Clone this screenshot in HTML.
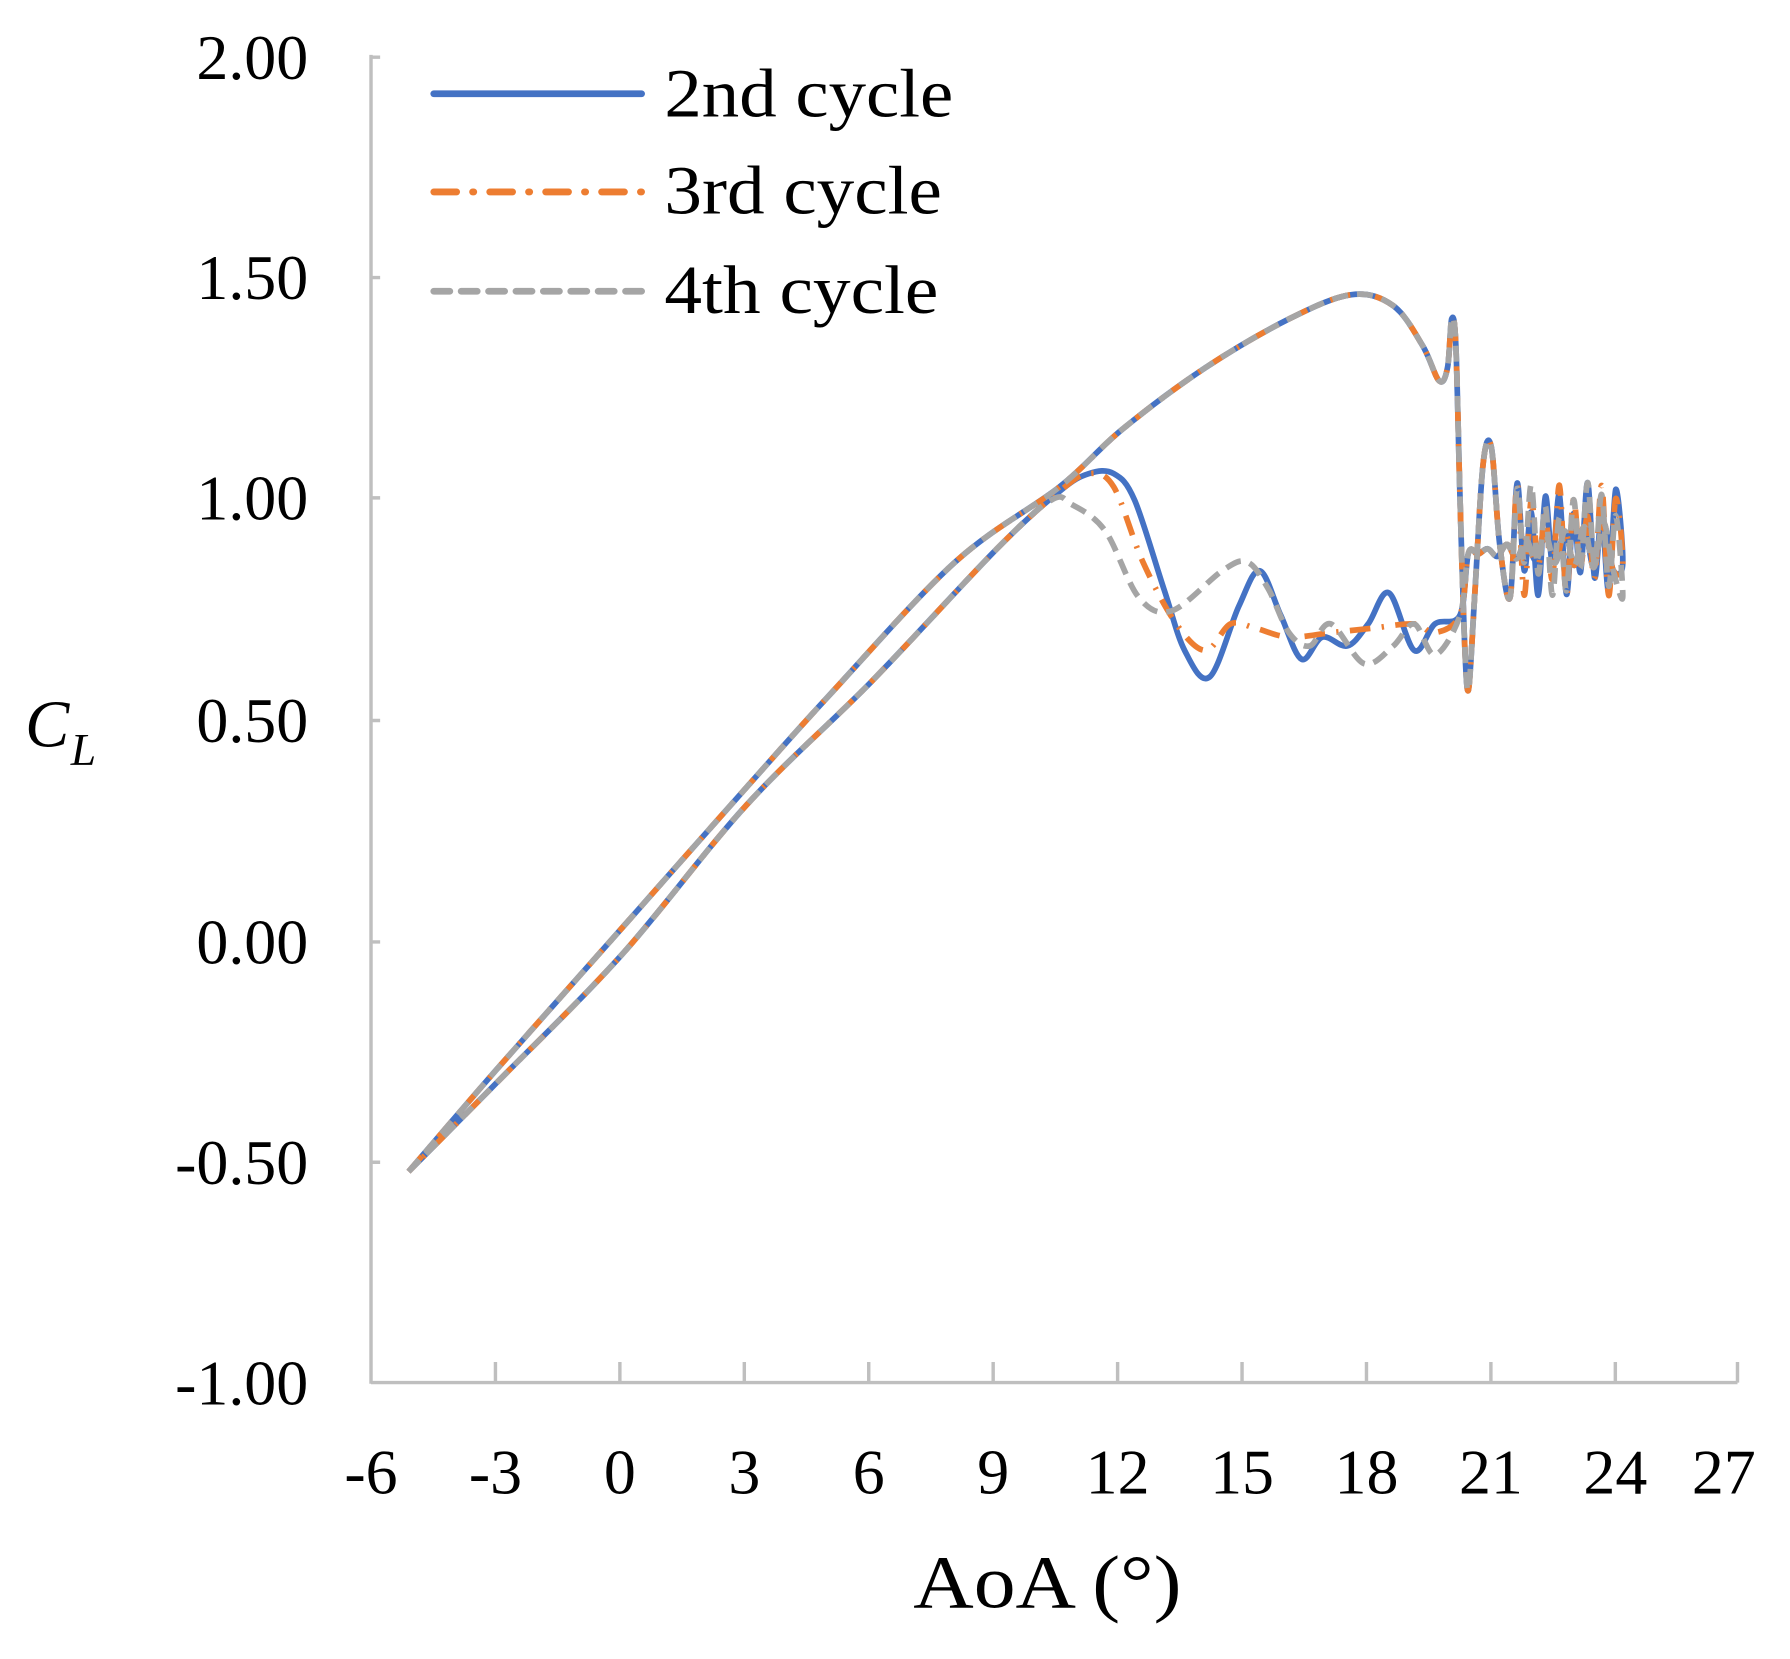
<!DOCTYPE html>
<html><head><meta charset="utf-8"><style>
html,body{margin:0;padding:0;background:#fff;}
svg{display:block;}
text{font-family:"Liberation Serif",serif;fill:#000;}
</style></head><body>
<svg id="s" width="1790" height="1659" viewBox="0 0 1568 1453" xmlns="http://www.w3.org/2000/svg">
<g stroke="#bfbfbf" stroke-width="3" fill="none">
<line x1="325" y1="48" x2="325" y2="1212"/>
<line x1="325" y1="1211" x2="1522" y2="1211"/>
<path d="M325 50h8M325 243h8M325 436h8M325 631h8M325 825h8M325 1018h8"/>
<path d="M434 1211v-18M543 1211v-18M652 1211v-18M761 1211v-18M870 1211v-18M979 1211v-18M1088 1211v-18M1197 1211v-18M1306 1211v-18M1415 1211v-18M1522 1211v-18"/>
</g>
<g font-size="56" text-anchor="end">
<text x="270" y="69">2.00</text><text x="270" y="262">1.50</text><text x="270" y="455">1.00</text>
<text x="270" y="650">0.50</text><text x="270" y="844">0.00</text><text x="270" y="1037">-0.50</text><text x="270" y="1230">-1.00</text>
</g>
<g font-size="56" text-anchor="middle">
<text x="325" y="1308">-6</text><text x="434" y="1308">-3</text><text x="543" y="1308">0</text><text x="652" y="1308">3</text>
<text x="761" y="1308">6</text><text x="870" y="1308">9</text><text x="979" y="1308">12</text><text x="1088" y="1308">15</text>
<text x="1197" y="1308">18</text><text x="1306" y="1308">21</text><text x="1415" y="1308">24</text><text x="1510" y="1308">27</text>
</g>
<text x="800" y="1408" font-size="66" textLength="235" lengthAdjust="spacingAndGlyphs">AoA (°)</text>
<text x="22" y="654" font-size="58" font-style="italic">C</text>
<text x="62" y="670" font-size="40" font-style="italic">L</text>
<g font-size="60">
<text x="582" y="102" textLength="253" lengthAdjust="spacingAndGlyphs">2nd cycle</text>
<text x="582" y="187" textLength="243" lengthAdjust="spacingAndGlyphs">3rd cycle</text>
<text x="582" y="274" textLength="240" lengthAdjust="spacingAndGlyphs">4th cycle</text>
</g>
<g stroke-width="6" stroke-linecap="round" fill="none">
<line x1="380" y1="82" x2="562" y2="82" stroke="#4472C4"/>
<line x1="380" y1="168" x2="562" y2="168" stroke="#ED7D31" stroke-dasharray="20 14 1 14"/>
<line x1="380" y1="255" x2="562" y2="255" stroke="#A5A5A5" stroke-dasharray="14 10"/>
</g>
<g id="curves" fill="none" stroke-width="5" stroke-linejoin="round"></g>
</svg>
<script>
function X(a){return 325+(a+6)*36.55;}
function Y(c){return 825-c*387;}
function catmull(pts){
  var d="M"+X(pts[0][0]).toFixed(1)+" "+Y(pts[0][1]).toFixed(1);
  var P=pts.map(function(p){return [X(p[0]),Y(p[1])];});
  for(var i=0;i<P.length-1;i++){
    var p0=P[i-1]||P[i],p1=P[i],p2=P[i+1],p3=P[i+2]||p2;
    var c1=[p1[0]+(p2[0]-p0[0])/6,p1[1]+(p2[1]-p0[1])/6];
    var c2=[p2[0]-(p3[0]-p1[0])/6,p2[1]-(p3[1]-p1[1])/6];
    d+="C"+c1[0].toFixed(1)+" "+c1[1].toFixed(1)+" "+c2[0].toFixed(1)+" "+c2[1].toFixed(1)+" "+p2[0].toFixed(1)+" "+p2[1].toFixed(1);
  }
  return d;
}
var up=[[-5.1,-0.52],[-3,-0.29],[0,0.03],[3,0.35],[5,0.56],[8,0.86],[10.5,1.03],[12,1.16],[14,1.30],[16,1.41],[17.5,1.465],[18.5,1.44],[19.2,1.35],[19.6,1.27],[19.8,1.30],[19.9,1.41],[20.0,1.35],[20.1,1.0],[20.2,0.7],[20.3,0.57],[20.45,0.78],[20.65,1.08],[20.85,1.12],[21.05,0.9],[21.3,0.78]];
function osc(start,end,seed){
  var r=[];var n=16;
  for(var i=1;i<=n;i++){var a=start+(end-start)*i/n;var v=(i%2?1.0:0.82)+0.04*Math.sin(i*seed);r.push([a,v]);}
  return r;
}
function back(){
  var r=[];var n=16;
  for(var i=1;i<=n;i++){var a=24-(24-20.3)*i/n;var v=(i%2?0.84:0.96)-0.08*i/n*(i%2?-0.5:1);r.push([a,v]);}
  return r;
}
var lower=[[9,0.89],[6,0.59],[3,0.31],[0,-0.03],[-3,-0.32],[-5.1,-0.52]];
var blueDown=[[20.1,0.74],[19.5,0.72],[19,0.66],[18.4,0.79],[17.9,0.72],[17.4,0.67],[16.8,0.69],[16.3,0.64],[15.8,0.74],[15.3,0.84],[14.8,0.76],[14.1,0.60],[13.5,0.66],[13,0.8],[12.3,1.0],[11.8,1.06],[11.2,1.06],[10.5,1.02]];
var orDown=[[20.1,0.74],[19.5,0.70],[19,0.72],[18,0.71],[17,0.70],[16,0.69],[15.2,0.71],[14.6,0.72],[14,0.66],[13.3,0.72],[12.5,0.86],[11.8,1.03],[11.2,1.06],[10.5,1.02]];
var grDown=[[20.1,0.74],[19.5,0.65],[19,0.72],[18.5,0.67],[17.8,0.63],[17,0.72],[16.5,0.67],[16,0.70],[15.5,0.80],[15,0.86],[14.4,0.84],[13.2,0.75],[12.4,0.78],[11.6,0.93],[10.8,0.99],[10.3,1.0]];
function series(down,seed){return up.concat(osc(21.3,24,seed)).concat(back()).concat(down).concat(lower);}
var g=document.getElementById("curves");
var defs=[["#4472C4","",series(blueDown,1.3)],["#ED7D31","18 10 2 10",series(orDown,2.1)],["#A5A5A5","14 8",series(grDown,0.7)]];
defs.forEach(function(s){
  var p=document.createElementNS("http://www.w3.org/2000/svg","path");
  p.setAttribute("d",catmull(s[2]));p.setAttribute("stroke",s[0]);
  if(s[1])p.setAttribute("stroke-dasharray",s[1]);
  g.appendChild(p);
});
</script>
</body></html>
